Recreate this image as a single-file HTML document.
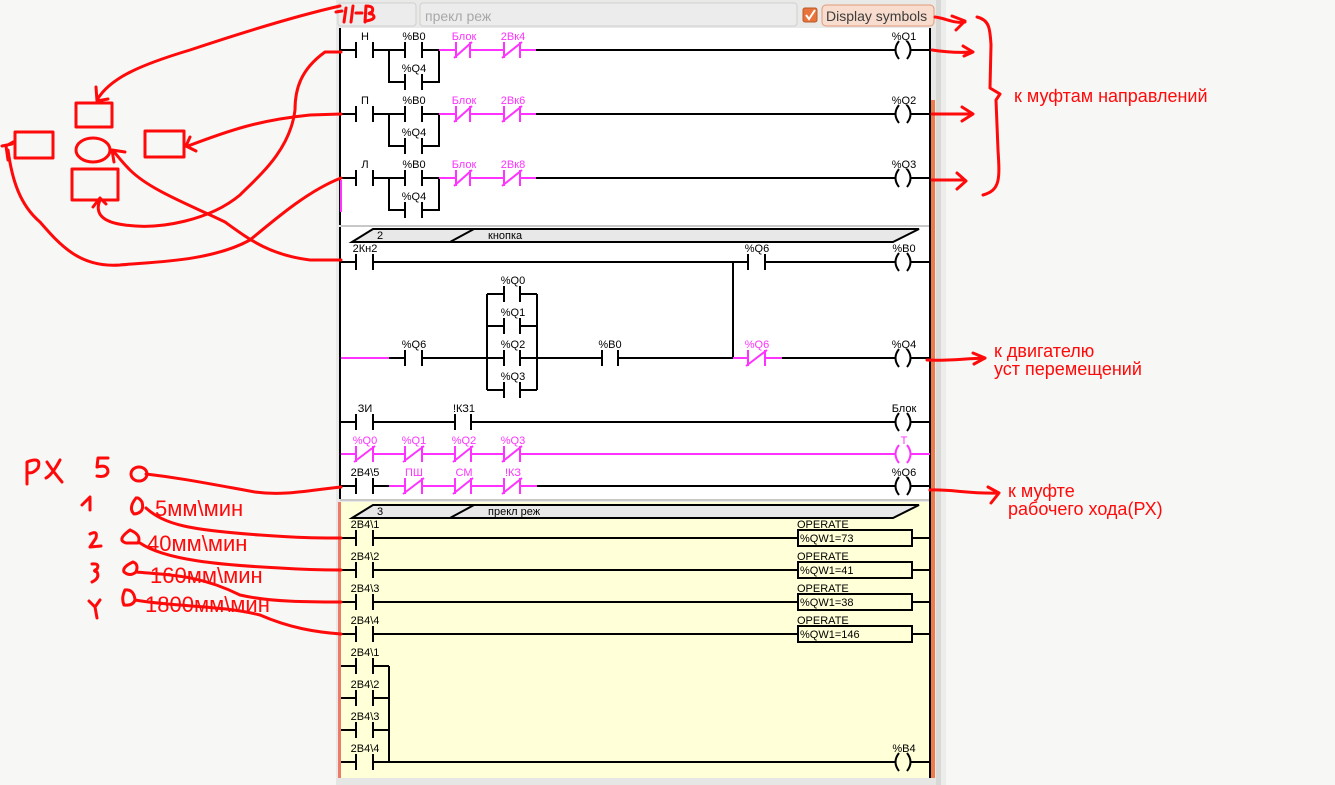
<!DOCTYPE html>
<html><head><meta charset="utf-8"><style>
html,body{margin:0;padding:0;background:#f7f7f5;}
svg{display:block;}
.l text{font-family:"Liberation Sans","DejaVu Sans",sans-serif;font-size:11px;}
</style></head><body>
<svg width="1335" height="785" viewBox="0 0 1335 785" xmlns="http://www.w3.org/2000/svg">
<rect x="0" y="0" width="1335" height="785" fill="#f7f7f5"/>
<rect x="336" y="0" width="600" height="785" fill="#e9e9e7"/>
<rect x="936" y="0" width="10" height="785" fill="#d8d8d6"/>
<rect x="941" y="0" width="5" height="785" fill="#ececea"/>
<rect x="338" y="3" width="78" height="23" rx="3" fill="#ececec" stroke="#cfcfcf"/>
<rect x="420" y="3" width="377" height="23" rx="3" fill="#ececec" stroke="#cfcfcf"/>
<text x="425" y="21" font-family="Liberation Sans,sans-serif" font-size="14" fill="#a8a8a8">прекл реж</text>
<rect x="803" y="8" width="14" height="14" rx="2" fill="#e8743b" stroke="#b85a2b"/>
<path d="M806 15 L809 19 L815 10" stroke="#fff" stroke-width="2" fill="none"/>
<rect x="822" y="5" width="112" height="21" rx="4" fill="#f8dccd" stroke="#e29a78"/>
<text x="826" y="21" font-family="Liberation Sans,sans-serif" font-size="14" fill="#3c3c3c">Display symbols</text>
<rect x="340" y="28" width="591" height="197" fill="#fff"/>
<rect x="340" y="227" width="591" height="272" fill="#fff"/>
<rect x="340" y="502" width="591" height="276" fill="#ffffd8"/>
<rect x="336" y="778" width="600" height="7" fill="#e6e6e4"/>
<line x1="340" y1="226" x2="931" y2="226" stroke="#c8c8c8" stroke-width="2"/>
<line x1="340" y1="500" x2="931" y2="500" stroke="#c8c8c8" stroke-width="2"/>
<rect x="931" y="100" width="4" height="678" fill="#ef7a4e"/>
<rect x="338" y="502" width="3" height="276" fill="#ef7a6a"/>
<line x1="340" y1="28" x2="340" y2="225" stroke="#000" stroke-width="2"/>
<line x1="340" y1="227" x2="340" y2="499" stroke="#000" stroke-width="2"/>
<line x1="930" y1="28" x2="930" y2="778" stroke="#000" stroke-width="2"/>

<g class="l" stroke="#000" stroke-width="2" fill="none">
<path d="M341 50 H356 M373 50 H405 M389 50 V82 H405 M422 82 H439 V50 H422 M356 42V58 M373 42V58 M405 42V58 M422 42V58 M405 74V90 M422 74V90 M521 50 H895 M911 50 H930"/>
<path d="M341 114 H356 M373 114 H405 M389 114 V146 H405 M422 146 H439 V114 H422 M356 106V122 M373 106V122 M405 106V122 M422 106V122 M405 138V154 M422 138V154 M521 114 H895 M911 114 H930"/>
<path d="M341 178 H356 M373 178 H405 M389 178 V210 H405 M422 178 H439 M422 210 H439 V178 M356 170V186 M373 170V186 M405 170V186 M422 170V186 M405 202V218 M422 202V218 M521 178 H895 M911 178 H930"/>
<path d="M899 41 Q892 50 899 59 M907 41 Q914 50 907 59 M899 105 Q892 114 899 123 M907 105 Q914 114 907 123 M899 169 Q892 178 899 187 M907 169 Q914 178 907 187"/>
<g stroke="#ff33ff">
<path d="M439 50 H456 M470 50 H504 M520 50 H536 M456 42V58 M470 42V58 M504 42V58 M520 42V58 M472 42 L454 58 M522 42 L502 58"/>
<path d="M439 114 H456 M470 114 H504 M520 114 H536 M456 106V122 M470 106V122 M504 106V122 M520 106V122 M472 106 L454 122 M522 106 L502 122"/>
<path d="M439 178 H456 M470 178 H504 M520 178 H536 M456 170V186 M470 170V186 M504 170V186 M520 170V186 M472 170 L454 186 M522 170 L502 186"/>
<path d="M341 180 V212"/>
</g>
<path d="M352 242 L373 229 H919 L893 242 Z M450 242 L474 229" fill="#e8e8e8"/>
<path d="M341 262 H356 M373 262 H748 M765 262 H895 M911 262 H930 M356 254V270 M373 254V270 M748 254V270 M765 254V270 M733 262 V358"/>
<path d="M899 253 Q892 262 899 271 M907 253 Q914 262 907 271"/>
<path d="M389 358 H405 M422 358 H504 M520 358 H602 M618 358 H733 M405 350V366 M422 350V366 M602 350V366 M618 350V366 M782 358 H895 M911 358 H930"/>
<path d="M487 294 V390 M537 294 V390 M487 294 H504 M520 294 H537 M487 326 H504 M520 326 H537 M487 390 H504 M520 390 H537 M504 286V302 M520 286V302 M504 318V334 M520 318V334 M504 350V366 M520 350V366 M504 382V398 M520 382V398"/>
<path d="M899 349 Q892 358 899 367 M907 349 Q914 358 907 367"/>
<path d="M341 422 H356 M373 422 H455 M471 422 H895 M911 422 H930 M356 414V430 M373 414V430 M455 414V430 M471 414V430"/>
<path d="M899 413 Q892 422 899 431 M907 413 Q914 422 907 431"/>
<path d="M341 486 H356 M356 478V494 M373 478V494 M537 486 H895 M911 486 H930 M373 486 H389"/>
<path d="M899 477 Q892 486 899 495 M907 477 Q914 486 907 495"/>
<g stroke="#ff33ff">
<path d="M341 358 H389 M733 358 H748 M765 358 H782 M748 350V366 M765 350V366 M767 350 L746 366"/>
<path d="M341 454 H356 M373 454 H405 M422 454 H455 M471 454 H504 M520 454 H895 M911 454 H930 M356 446V462 M373 446V462 M405 446V462 M422 446V462 M455 446V462 M471 446V462 M504 446V462 M520 446V462 M375 446L354 462 M424 446L403 462 M473 446L453 462 M522 446L502 462"/>
<path d="M899 445 Q892 454 899 463 M907 445 Q914 454 907 463"/>
<path d="M389 486 H405 M422 486 H455 M471 486 H504 M520 486 H537 M405 478V494 M422 478V494 M455 478V494 M471 478V494 M504 478V494 M520 478V494 M424 478L403 494 M473 478L453 494 M522 478L502 494"/>
</g>
<path d="M352 518 L373 505 H919 L893 518 Z M450 518 L474 505" fill="#e8e8e8"/>
<path d="M341 538 H356 M373 538 H798 M912 538 H930 M356 530V546 M373 530V546"/>
<path d="M341 570 H356 M373 570 H798 M912 570 H930 M356 562V578 M373 562V578"/>
<path d="M341 602 H356 M373 602 H798 M912 602 H930 M356 594V610 M373 594V610"/>
<path d="M341 634 H356 M373 634 H798 M912 634 H930 M356 626V642 M373 626V642"/>
<rect x="798" y="530" width="114" height="16"/>
<rect x="798" y="562" width="114" height="16"/>
<rect x="798" y="594" width="114" height="16"/>
<rect x="798" y="626" width="114" height="16"/>
<path d="M341 666 H356 M373 666 H389 M341 698 H356 M373 698 H389 M341 730 H356 M373 730 H389 M341 762 H356 M373 762 H895 M911 762 H930 M389 666 V762 M356 658V674 M373 658V674 M356 690V706 M373 690V706 M356 722V738 M373 722V738 M356 754V770 M373 754V770"/>
<path d="M899 753 Q892 762 899 771 M907 753 Q914 762 907 771"/>
</g>
<g class="l" text-anchor="middle" fill="#000">
<text x="365" y="40">Н</text><text x="414" y="40">%B0</text><text x="414" y="72">%Q4</text><text x="904" y="40">%Q1</text>
<text x="365" y="104">П</text><text x="414" y="104">%B0</text><text x="414" y="136">%Q4</text><text x="904" y="104">%Q2</text>
<text x="365" y="168">Л</text><text x="414" y="168">%B0</text><text x="414" y="200">%Q4</text><text x="904" y="168">%Q3</text>
<g fill="#ff33ff"><text x="464" y="40">Блок</text><text x="513" y="40">2Вк4</text><text x="464" y="104">Блок</text><text x="513" y="104">2Вк6</text><text x="464" y="168">Блок</text><text x="513" y="168">2Вк8</text></g>
<text x="365" y="252">2Кн2</text><text x="757" y="252">%Q6</text><text x="904" y="252">%B0</text>
<text x="513" y="284">%Q0</text><text x="513" y="316">%Q1</text><text x="513" y="348">%Q2</text><text x="513" y="380">%Q3</text>
<text x="414" y="348">%Q6</text><text x="610" y="348">%B0</text><text x="904" y="348">%Q4</text>
<text x="365" y="412">ЗИ</text><text x="464" y="412">!КЗ1</text><text x="904" y="412">Блок</text>
<text x="365" y="476">2В4\5</text><text x="904" y="476">%Q6</text>
<g fill="#ff33ff"><text x="757" y="348">%Q6</text><text x="365" y="444">%Q0</text><text x="414" y="444">%Q1</text><text x="464" y="444">%Q2</text><text x="513" y="444">%Q3</text><text x="904" y="444">T</text>
<text x="414" y="476">ПШ</text><text x="464" y="476">СМ</text><text x="513" y="476">!КЗ</text></g>
<text x="904" y="752">%B4</text>
<text x="365" y="528">2В4\1</text><text x="365" y="560">2В4\2</text><text x="365" y="592">2В4\3</text><text x="365" y="624">2В4\4</text>
<text x="365" y="656">2В4\1</text><text x="365" y="688">2В4\2</text><text x="365" y="720">2В4\3</text><text x="365" y="752">2В4\4</text>
</g>
<g class="l" fill="#000">
<text x="377" y="239">2</text><text x="488" y="239">кнопка</text>
<text x="377" y="515">3</text><text x="488" y="515">прекл реж</text>
<text x="797" y="528">OPERATE</text><text x="800" y="542">%QW1=73</text>
<text x="797" y="560">OPERATE</text><text x="800" y="574">%QW1=41</text>
<text x="797" y="592">OPERATE</text><text x="800" y="606">%QW1=38</text>
<text x="797" y="624">OPERATE</text><text x="800" y="638">%QW1=146</text>
</g>

<g stroke="#ff0a0a" stroke-width="3" fill="none" stroke-linecap="round" stroke-linejoin="round">
<path d="M336 12 L342 11 M346 8 L344 22 M353 6 L351 22 M356 13 L362 13 M366 6 L365 22 M366 6 Q375 6 372 12 Q366 14 372 14 Q378 19 366 21"/>
<path d="M340 6 C300 15 250 30 190 50 C140 65 110 78 97 100 M96 87 L97 101 L108 99"/>
<path d="M341 52 L325 52 C300 70 295 90 295 110 C290 150 260 175 240 195 C210 220 160 230 125 225 C100 222 95 212 100 200 M93 207 L100 198 L106 204"/>
<path d="M341 114 L310 115 C260 120 230 130 188 146 M190 137 L186 146 L196 151"/>
<path d="M341 178 C310 190 280 215 250 240 C210 262 150 262 120 265 C80 268 60 245 40 222 C20 205 12 180 8 150 M2 146 L12 144 M8 160 L6 146 L13 142"/>
<path d="M341 260 L310 260 C270 255 250 240 225 222 C190 205 150 190 130 170 C120 160 115 152 112 150 M125 152 L112 150 L114 162"/>
<rect x="76" y="103" width="36" height="24"/>
<rect x="15" y="132" width="38" height="26"/>
<ellipse cx="93" cy="150" rx="17" ry="12"/>
<rect x="145" y="131" width="39" height="26"/>
<rect x="72" y="169" width="46" height="31"/>
<path d="M935 17 C945 18 955 24 965 22 M952 16 L965 21 L956 30"/>
<path d="M932 50 C945 52 958 53 972 52 M963 46 L973 52 L964 56"/>
<path d="M932 114 L972 114 M962 107 L973 114 L962 121"/>
<path d="M932 180 L965 180 M957 173 L966 181 L957 189"/>
<path d="M977 17 C990 20 990 30 991 45 L990 88 L1000 94 L996 100 L998 150 C1000 180 1000 190 983 195"/>
<path d="M927 360 C945 361 960 359 985 358 M973 353 L985 358 L974 364"/>
<path d="M930 490 C950 489 970 494 998 493 M988 487 L999 493 L991 503"/>
<path d="M27 484 L27 462 Q42 456 38 468 Q32 475 27 472 M47 462 Q52 470 62 482 M60 460 Q52 475 46 478"/>
<path d="M108 458 L98 458 L97 467 Q108 464 108 472 Q106 478 97 476"/>
<path d="M82 505 L90 497 L90 510"/>
<path d="M90 534 Q98 530 96 538 L90 547 L101 546"/>
<path d="M92 564 Q100 563 97 569 Q92 571 97 572 Q100 578 92 582"/>
<path d="M89 601 L95 607 L100 600 M95 607 L97 618"/>
<ellipse cx="139" cy="474" rx="8" ry="7"/>
<path d="M136 498 Q128 508 134 514 Q145 513 142 502 Q139 497 136 498"/>
<path d="M130 530 Q116 540 126 543 L138 543 Q142 535 130 530"/>
<path d="M133 562 Q122 567 124 572 Q130 577 136 572 Q139 564 133 562"/>
<path d="M125 590 Q121 598 124 605 Q133 606 135 600 Q134 589 125 590"/>
<path d="M146 474 C180 478 200 482 255 492 C285 496 310 490 341 487"/>
<path d="M146 508 C165 525 190 530 260 535 C300 538 320 538 341 538"/>
<path d="M140 543 C165 560 220 565 280 568 C310 570 325 570 341 570"/>
<path d="M136 572 C170 575 200 575 240 595 C270 602 310 602 341 602"/>
<path d="M135 600 C175 607 220 605 260 615 C290 628 315 632 341 634"/>
</g>
<g font-family="Liberation Sans,sans-serif" fill="#ff0a0a">
<text x="155" y="516" font-size="22">5мм\мин</text>
<text x="147" y="551" font-size="22">40мм\мин</text>
<text x="150" y="583" font-size="22">160мм\мин</text>
<text x="145" y="612" font-size="22">1800мм\мин</text>
<text x="1014" y="102" font-size="18">к муфтам направлений</text>
<text x="994" y="357" font-size="18">к двигателю</text>
<text x="994" y="375" font-size="18">уст перемещений</text>
<text x="1008" y="497" font-size="18">к муфте</text>
<text x="1008" y="515" font-size="18">рабочего хода(РХ)</text>
</g>
</svg>
</body></html>
